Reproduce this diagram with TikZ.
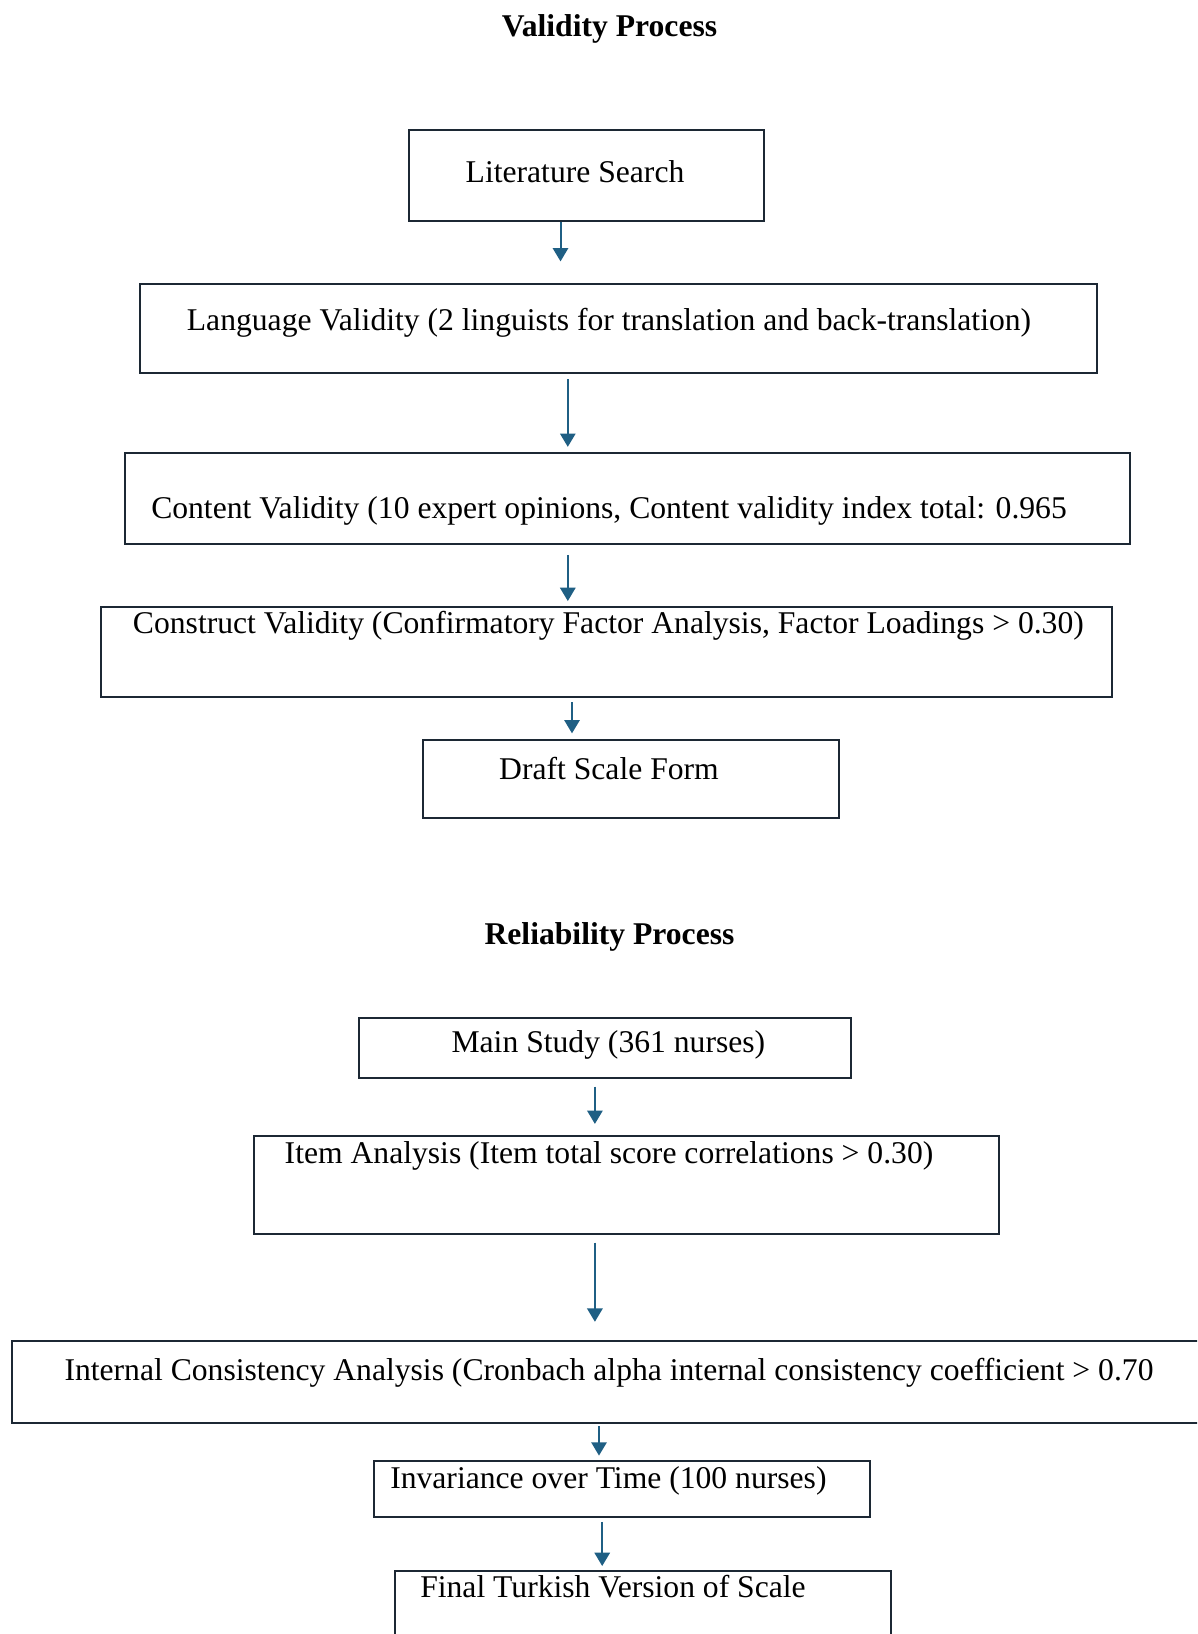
\documentclass[tikz,border=0pt]{standalone}
\usepackage{fontspec}
\setmainfont{Liberation Serif}
\usepackage{tikz}
\usetikzlibrary{arrows.meta}
\definecolor{F}{RGB}{31, 95, 132}
\definecolor{K}{RGB}{28, 40, 52}

\tikzset{
  caja/.style={draw=K, line width=0.03cm, inner sep=0pt},
  texto/.style={inner sep=0pt, text depth=0pt, font=\fontsize{13.5}{16}\selectfont},
  titulo/.style={inner sep=0pt, text depth=0pt, font=\fontsize{13.5}{16}\selectfont\bfseries},
  flecha/.style={draw=F, line width=0.03cm, -{Triangle[width=0.23cm,length=0.2cm]}}
}

\begin{document}
\begin{tikzpicture}[x=0.015cm, y=-0.015cm]
   	\clip (0,0) rectangle (1197,1634);
   	\fill[white] (0,0) rectangle (1197,1634);

	%Proceso de validez
   	\node[titulo] (tval) at (609.5,26) {Validity Process};

   	\node[caja, minimum width=5.313cm, minimum height=1.36cm] (lit) at (586.5,175.5) {};
   	\node[texto] (litT) at (575,171.9) {Literature Search};

   	\node[caja, minimum width=14.36cm, minimum height=1.329cm] (lang) at (618.3,328.7) {};
   	\node[texto] (langT) at (609,319.8) {Language Validity (2 linguists for translation and back-translation)};

   	\node[caja, minimum width=15.08cm, minimum height=1.359cm] (cont) at (627.7,498.5) {};
   	\node[texto] (contT) at (609,507.4) {Content Validity (10 expert opinions, Content validity index total: 0.965};

   	\node[caja, minimum width=15.16cm, minimum height=1.344cm] (cons) at (606.3,652.2) {};
   	\node[texto] (consT) at (608.4,622) {Construct Validity (Confirmatory Factor Analysis, Factor Loadings > 0.30)};

   	\node[caja, minimum width=6.234cm, minimum height=1.172cm] (draft) at (630.8,778.75) {};
   	\node[texto] (draftT) at (609,768.8) {Draft Scale Form};

	%Flechas de validez
   	\draw[flecha] (lit.south -| 560.5,0) -- (lang.north -| 560.5,0) [shorten >=0.33cm];
   	\draw[flecha, shorten <=0.075cm, shorten >=0.08cm] (lang.south -| 567.8,0) -- (cont.north -| 567.8,0);
   	\draw[flecha, shorten <=0.15cm, shorten >=0.08cm] (cont.south -| 567.8,0) -- (cons.north -| 567.8,0);
   	\draw[flecha, shorten <=0.06cm, shorten >=0.08cm] (cons.south -| 572,0) -- (draft.north -| 572,0);

	%Proceso de confiabilidad
   	\node[titulo] (trel) at (609.5,933.5) {Reliability Process};

   	\node[caja, minimum width=7.377cm, minimum height=0.9075cm] (main) at (605.3,1048.05) {};
   	\node[texto] (mainT) at (608.4,1041.8) {Main Study (361 nurses)};

   	\node[caja, minimum width=11.17cm, minimum height=1.469cm] (item) at (626.6,1184.55) {};
   	\node[texto] (itemT) at (609,1152.2) {Item Analysis (Item total score correlations > 0.30)};

   	\node[caja, minimum width=18.04cm, minimum height=1.235cm] (inter) at (613.75,1381.95) {};
   	\node[texto] (interT) at (609,1369) {Internal Consistency Analysis (Cronbach alpha internal consistency coefficient > 0.70};

   	\node[caja, minimum width=7.44cm, minimum height=0.845cm] (inv) at (622,1488.75) {};
   	\node[texto] (invT) at (608.4,1477.3) {Invariance over Time (100 nurses)};

   	\node[caja, minimum width=7.44cm, minimum height=1.335cm] (final) at (642.75,1615.5) {};
   	\node[texto] (finalT) at (613,1586.7) {Final Turkish Version of Scale};

	%Flechas de confiabilidad
   	\draw[flecha, shorten <=0.11cm, shorten >=0.16cm] (main.south -| 594.9,0) -- (item.north -| 594.9,0);
   	\draw[flecha, shorten <=0.12cm, shorten >=0.27cm] (item.south -| 594.9,0) -- (inter.north -| 594.9,0);
   	\draw[flecha, shorten <=0.03cm, shorten >=0.06cm] (inter.south -| 599,0) -- (inv.north -| 599,0);
   	\draw[flecha, shorten <=0.06cm, shorten >=0.06cm] (inv.south -| 602.2,0) -- (final.north -| 602.2,0);
\end{tikzpicture}
\end{document}
